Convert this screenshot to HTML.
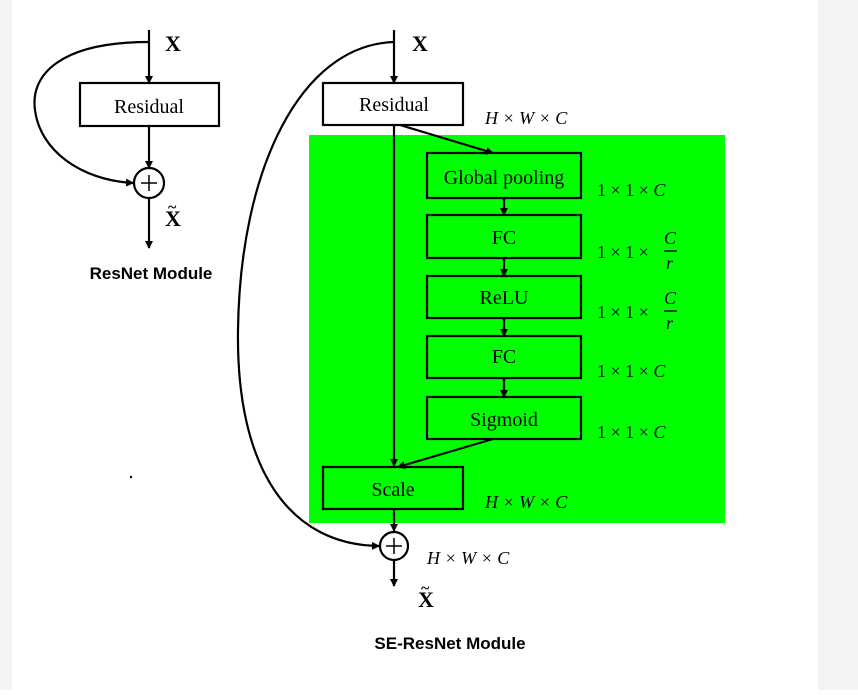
<!DOCTYPE html>
<html><head><style>
body{margin:0;background:#fff}
svg text{font-family:"Liberation Serif",serif}
svg text.s{font-family:"Liberation Sans",sans-serif}
</style></head><body>
<svg width="858" height="690" viewBox="0 0 858 690" xmlns="http://www.w3.org/2000/svg">
<defs><marker id="a" markerWidth="8" markerHeight="8" refX="7" refY="4" orient="auto" markerUnits="userSpaceOnUse"><path d="M0,0 L8,4 L0,8 z" fill="#000"/></marker></defs>
<rect x="0" y="0" width="12" height="690" fill="#f3f4f6"/>
<rect x="818" y="0" width="40" height="690" fill="#f3f4f6"/>
<rect x="309" y="135" width="416" height="388" fill="#00ff00"/>
<g stroke="#000" stroke-width="2.2" fill="none">
<line x1="149" y1="30" x2="149" y2="83" marker-end="url(#a)"/>
<rect x="80" y="83" width="139" height="43" fill="#fff"/>
<line x1="149" y1="126" x2="149" y2="168" marker-end="url(#a)"/>
<circle cx="149" cy="183" r="15" fill="#fff"/>
<line x1="149" y1="198" x2="149" y2="248" marker-end="url(#a)"/>
<path d="M149,42 C60,42 30,75 35,110 C40,150 80,180 133,183" marker-end="url(#a)"/>
<line x1="394" y1="30" x2="394" y2="83" marker-end="url(#a)"/>
<rect x="323" y="83" width="140" height="42" fill="#fff"/>
<line x1="394" y1="125" x2="394" y2="466" marker-end="url(#a)"/>
<line x1="400" y1="125" x2="493" y2="153" marker-end="url(#a)"/>
<rect x="427" y="153" width="154" height="45"/>
<rect x="427" y="215" width="154" height="43"/>
<rect x="427" y="276" width="154" height="42"/>
<rect x="427" y="336" width="154" height="42"/>
<rect x="427" y="397" width="154" height="42"/>
<line x1="504" y1="198" x2="504" y2="215" marker-end="url(#a)"/>
<line x1="504" y1="258" x2="504" y2="276" marker-end="url(#a)"/>
<line x1="504" y1="318" x2="504" y2="336" marker-end="url(#a)"/>
<line x1="504" y1="378" x2="504" y2="397" marker-end="url(#a)"/>
<line x1="493" y1="439" x2="398" y2="467" marker-end="url(#a)"/>
<rect x="323" y="467" width="140" height="42"/>
<line x1="394" y1="509" x2="394" y2="531" marker-end="url(#a)"/>
<circle cx="394" cy="546" r="14" fill="#fff"/>
<line x1="394" y1="560" x2="394" y2="586" marker-end="url(#a)"/>
<path d="M394,42 C300,45 240,170 238,330 C236,470 290,545 379,546" marker-end="url(#a)"/>
</g>
<g stroke="#000" stroke-width="1.5">
<line x1="141" y1="183" x2="157" y2="183"/><line x1="149" y1="175" x2="149" y2="191"/>
<line x1="386" y1="546" x2="402" y2="546"/><line x1="394" y1="538" x2="394" y2="554"/>
</g>
<g font-size="20" text-anchor="middle">
<text x="149" y="113">Residual</text>
<text x="394" y="111">Residual</text>
<text x="504" y="184">Global pooling</text>
<text x="504" y="244">FC</text>
<text x="504" y="304">ReLU</text>
<text x="504" y="363">FC</text>
<text x="504" y="426">Sigmoid</text>
<text x="393" y="496">Scale</text>
</g>
<g font-size="22" font-weight="bold">
<text x="165" y="51">X</text>
<text x="165" y="226">X</text><text x="168" y="212" font-size="16">~</text>
<text x="412" y="51">X</text>
<text x="418" y="607">X</text><text x="421" y="593" font-size="16">~</text>
</g>
<g font-size="18" font-style="italic">
<text x="485" y="124">H × W × C</text>
<text x="485" y="508">H × W × C</text>
<text x="427" y="564">H × W × C</text>
</g>
<g font-size="18">
<text x="597" y="196">1 × 1 × <tspan font-style="italic">C</tspan></text>
<text x="597" y="258">1 × 1 ×</text>
<text x="664" y="244" font-style="italic">C</text><line x1="664" y1="251" x2="677" y2="251" stroke="#000" stroke-width="1.5"/><text x="666" y="269" font-style="italic">r</text>
<text x="597" y="318">1 × 1 ×</text>
<text x="664" y="304" font-style="italic">C</text><line x1="664" y1="311" x2="677" y2="311" stroke="#000" stroke-width="1.5"/><text x="666" y="329" font-style="italic">r</text>
<text x="597" y="377">1 × 1 × <tspan font-style="italic">C</tspan></text>
<text x="597" y="438">1 × 1 × <tspan font-style="italic">C</tspan></text>
</g>
<g font-size="17" font-weight="bold" text-anchor="middle">
<text class="s" x="151" y="279">ResNet Module</text>
<text class="s" x="450" y="649">SE-ResNet Module</text>
</g>
<circle cx="131" cy="477" r="1.2" fill="#000"/>
</svg>
</body></html>
